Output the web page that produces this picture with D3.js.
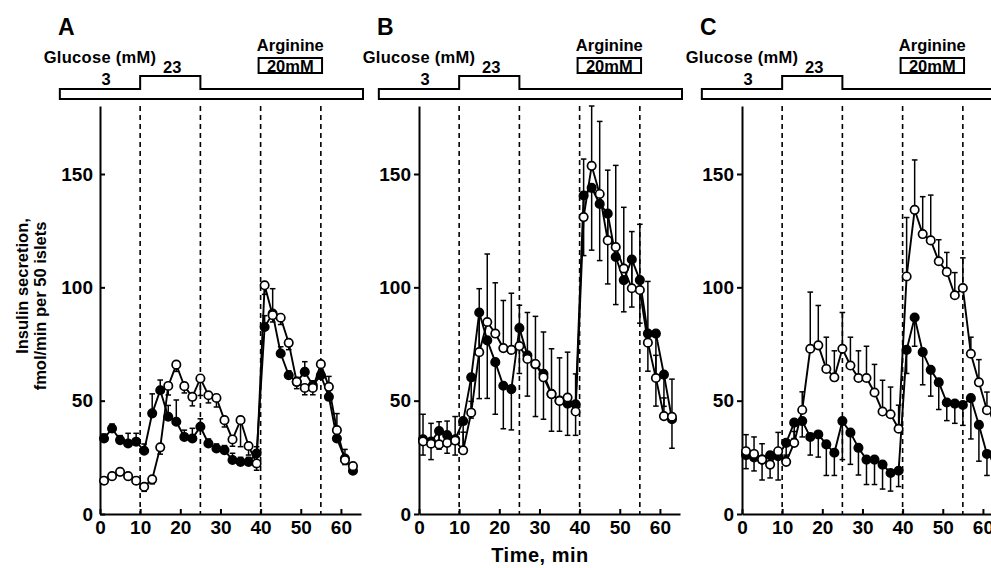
<!DOCTYPE html>
<html>
<head>
  <meta charset="UTF-8">
  <title>Insulin secretion, perifused islets</title>
  <style>
    body { margin: 0; background: #fff; }
    svg text { font-family: "Liberation Sans", Arial, Helvetica, sans-serif; font-weight: bold; fill: #000; }
    .line { fill: none; stroke: #000; stroke-width: 1.9px; }
    .err { stroke: #000; stroke-width: 1.5px; }
    .dash { stroke: #000; stroke-width: 1.6px; stroke-dasharray: 5,4; }
    .axis path, .axis line { stroke: #000; stroke-width: 2px; }
    .axis text { font-size: 19px; }
    .head { font-size: 16.5px; }
  </style>
</head>
<body>
  <svg width="991" height="568" id="chart"></svg>
  <script src="https://cdn.jsdelivr.net/npm/d3@7/dist/d3.min.js"></script>
  <script>
    // sampling times (min)
    var times = [1, 3, 5, 7, 9, 11, 13, 15, 17, 19, 21, 23, 25, 27, 29, 31,
                 33, 35, 37, 39, 41, 43, 45, 47, 49, 51, 53, 55, 57, 59, 61, 63];
    var xTicks = [0, 10, 20, 30, 40, 50, 60];
    var yTicks = [0, 50, 100, 150];
    var switchTimes = [10, 25, 40, 55];
    var glucoseSteps = [{from: -10, to: 10, level: 3}, {from: 10, to: 25, level: 23}, {from: 25, to: 65.5, level: 3}];
    var arginine = {from: 39.5, to: 55.3, label: "20mM"};

    // panel A
    var aFilled = [33.3, 37.7, 32.6, 31.1, 31.9, 27.9, 44.4, 54.6, 42.9, 40.7, 34, 33.3, 38.5, 31.1, 28.9, 28.2,
                   23.8, 23, 23, 26.7, 82.5, 88.4, 70.8, 61.2, 58.3, 62.7, 56.8, 61.2, 51.7, 33.3, 24.5, 19.1];
    var aFilledErr = [2, 2, 2, 4.5, 3.7, 3, 8.6, 4.5, 5, 9.6, 3, 4.5, 3.5, 2, 2, 2,
                      3, 2, 2, 3, 5, 11, 3, 2, 2, 4.5, 2, 5, 9, 11, 4, 2];
    var aOpen = [14.7, 16.7, 18.6, 16.7, 14.7, 12, 15.3, 29.4, 56.5, 65.9, 56.4, 51.7, 59.8, 52.4, 51.2, 41.4,
                 32.9, 41.4, 30, 22.3, 100.9, 87.7, 86.6, 75.5, 58.3, 55.6, 55.6, 66.1, 56.1, 37, 23.8, 21.1];
    var aOpenErr = [1.5, 1.5, 1.5, 1.5, 1.5, 2, 2, 3, 4, 3, 3, 4, 7.5, 3.4, 4, 3,
                    3, 11.7, 4, 3, 4, 3, 3, 3, 3, 3, 3, 4, 3, 3, 2, 2];

    // panel B
    var bFilled = [33, 32, 36.6, 34.8, 33, 41, 60.3, 88.9, 76.6, 67, 56.6, 55.1, 82, 70, 66, 61.8,
                   53, 50, 48.7, 48.4, 140.5, 143.9, 136.8, 132.5, 113.4, 103.2, 112.3, 103.2, 79.6, 79.6, 61.5, 41.8];
    var bFilledErr = [7, 8, 8, 8, 7, 14, 18, 38, 25.6, 23, 19, 18, 20, 18, 23, 20,
                      16.5, 13.5, 14, 13.7, 26.5, 27.5, 25, 31, 21, 14, 21, 19, 16.6, 32, 14, 12.8];
    var bOpen = [32, 31, 30.7, 31.4, 32.4, 28.1, 44.7, 71.4, 84.7, 79.6, 73.2, 72.4, 74.1, 68.4, 66.2, 60.3,
                 52.9, 49.9, 51.4, 45.2, 131, 153.6, 141.2, 120.7, 117.8, 108.3, 99.6, 98.8, 75.6, 60, 43.2, 42.9];
    var bOpenErr = [12, 9, 10, 9.6, 10.6, 8, 5, 28, 30, 22.4, 21, 25, 18, 20.5, 21, 20,
                    20, 19, 20, 16.6, 25.6, 26.4, 32, 31, 36, 27, 25, 29, 27, 10, 8, 16.6];

    // panel C
    var cFilled = [26, 25, 24, 25.9, 25.5, 31.4, 40.3, 41, 34, 35.1, 30.7, 27, 41, 35.9, 29.2, 24,
                   24, 21.8, 18.1, 19.1, 72.4, 86.7, 71.4, 63.6, 58.1, 49.2, 48.7, 48.1, 51.1, 39.3, 26.5, 25];
    var cFilledErr = [6, 6, 9, 10, 10.5, 6, 7, 7, 8, 10, 13.7, 10, 17, 14, 12, 11,
                      11, 10.8, 8, 7, 10.4, 12.7, 14.4, 11.6, 12, 8, 8.7, 9, 18, 16, 9.5, 9];
    var cOpen = [27.7, 26.5, 24, 21.8, 27.7, 23, 31.4, 45.9, 72.9, 74.4, 64, 60.3, 72.9, 65.5, 60, 60,
                 53.6, 45.2, 44, 37.6, 104.8, 134.2, 123.5, 120.7, 111.5, 106.8, 96.5, 99.7, 70.7, 58.1, 45.8, 44];
    var cOpenErr = [7.3, 7.5, 7, 5.6, 8.3, 3, 5, 8, 25, 17.6, 14, 11.7, 16, 12.5, 12, 14,
                    12.4, 13.8, 12, 10.4, 26, 22, 16.5, 20, 9.5, 8.6, 10, 13.3, 7.3, 10, 8, 8];

    // filledUp: error bars of filled series go up (open go down) when true
    var panels = [
      {id: "A", left: 100, filled: aFilled, filledErr: aFilledErr, open: aOpen, openErr: aOpenErr, filledUp: true, tickIn: true},
      {id: "B", left: 419, filled: bFilled, filledErr: bFilledErr, open: bOpen, openErr: bOpenErr, filledUp: false, tickIn: false},
      {id: "C", left: 742, filled: cFilled, filledErr: cFilledErr, open: cOpen, openErr: cOpenErr, filledUp: false, tickIn: false}
    ];

    var svg = d3.select("#chart");

    var x = d3.scaleLinear().domain([0, 65]).range([0, 261]);
    var y = d3.scaleLinear().domain([0, 180]).range([514, 106]);

    var line = d3.line()
      .x(function (d) { return x(d.t); })
      .y(function (d) { return y(d.v); });

    panels.forEach(function (p) {
      var g = svg.append("g").attr("transform", "translate(" + p.left + ",0)");

      // header: glucose schematic
      g.append("text").attr("x", -42).attr("y", 35).style("font-size", "23px").text(p.id);
      g.append("text").attr("class", "head").attr("x", 0).attr("y", 63).attr("text-anchor", "middle")
        .style("letter-spacing", "0.3px").text("Glucose (mM)");

      var baseY = 89, highY = 76, bottomY = 99;
      var pts = [[x(glucoseSteps[0].from), bottomY], [x(glucoseSteps[0].from), baseY]];
      glucoseSteps.forEach(function (s) {
        var yy = s.level > 3 ? highY : baseY;
        pts.push([x(s.from), yy]);
        pts.push([x(s.to), yy]);
      });
      pts.push([x(glucoseSteps[glucoseSteps.length - 1].to), bottomY]);
      g.append("path")
        .attr("d", d3.line()(pts) + "Z")
        .attr("fill", "none").attr("stroke", "#000").attr("stroke-width", 2);

      g.append("text").attr("class", "head").attr("x", x(1.5)).attr("y", 85).attr("text-anchor", "middle")
        .text(glucoseSteps[0].level);
      g.append("text").attr("class", "head").attr("x", x(18)).attr("y", 73).attr("text-anchor", "middle")
        .text(glucoseSteps[1].level);

      g.append("text").attr("class", "head").attr("x", x((arginine.from + arginine.to) / 2)).attr("y", 51)
        .attr("text-anchor", "middle").text("Arginine");
      g.append("rect")
        .attr("x", x(arginine.from)).attr("y", 58)
        .attr("width", x(arginine.to) - x(arginine.from)).attr("height", 15)
        .attr("fill", "none").attr("stroke", "#000").attr("stroke-width", 2);
      g.append("text").attr("class", "head").attr("x", x((arginine.from + arginine.to) / 2)).attr("y", 71.5)
        .attr("text-anchor", "middle").text(arginine.label);

      // dashed switch lines
      g.selectAll(".dash").data(switchTimes).enter().append("line")
        .attr("class", "dash")
        .attr("x1", function (d) { return x(d); }).attr("x2", function (d) { return x(d); })
        .attr("y1", y(180)).attr("y2", y(0));

      // axes
      g.append("g").attr("class", "axis")
        .attr("transform", "translate(0," + y(0) + ")")
        .call(d3.axisBottom(x).tickValues(xTicks).tickSizeInner(-5).tickSizeOuter(0).tickPadding(7));
      g.append("g").attr("class", "axis")
        .call(d3.axisLeft(y).tickValues(yTicks).tickSizeInner(p.tickIn ? -5 : 5).tickSizeOuter(0)
          .tickPadding(p.tickIn ? 7 : 3));

      var series = [
        {vals: p.filled, err: p.filledErr, dir: p.filledUp ? 1 : -1, fill: "#000"},
        {vals: p.open, err: p.openErr, dir: p.filledUp ? -1 : 1, fill: "#fff"}
      ];

      series.forEach(function (s) {
        var data = times.map(function (t, i) { return {t: t, v: s.vals[i], e: s.err[i]}; });
        var eg = g.append("g");
        eg.selectAll("line.err").data(data).enter().append("line")
          .attr("class", "err")
          .attr("x1", function (d) { return x(d.t); }).attr("x2", function (d) { return x(d.t); })
          .attr("y1", function (d) { return y(d.v); })
          .attr("y2", function (d) { return y(d.v + s.dir * d.e); });
        eg.selectAll("line.cap").data(data).enter().append("line")
          .attr("class", "err cap")
          .attr("x1", function (d) { return x(d.t) - 2.8; }).attr("x2", function (d) { return x(d.t) + 2.8; })
          .attr("y1", function (d) { return y(d.v + s.dir * d.e); })
          .attr("y2", function (d) { return y(d.v + s.dir * d.e); });
        s.data = data;
      });

      series.forEach(function (s) {
        g.append("path").attr("class", "line").attr("d", line(s.data));
        g.selectAll(null).data(s.data).enter().append("circle")
          .attr("cx", function (d) { return x(d.t); })
          .attr("cy", function (d) { return y(d.v); })
          .attr("r", 4.2)
          .attr("fill", s.fill).attr("stroke", "#000").attr("stroke-width", 1.7);
      });
    });

    // shared axis titles
    svg.append("text").attr("transform", "translate(28,286) rotate(-90)")
      .attr("text-anchor", "middle").style("font-size", "16.5px").text("Insulin secretion,");
    svg.append("text").attr("transform", "translate(46,306) rotate(-90)")
      .attr("text-anchor", "middle").style("font-size", "16.5px").text("fmol/min per 50 islets");
    svg.append("text").attr("x", 540).attr("y", 562).attr("text-anchor", "middle")
      .style("font-size", "20px").style("letter-spacing", "0.5px").text("Time, min");
  </script>
</body>
</html>
